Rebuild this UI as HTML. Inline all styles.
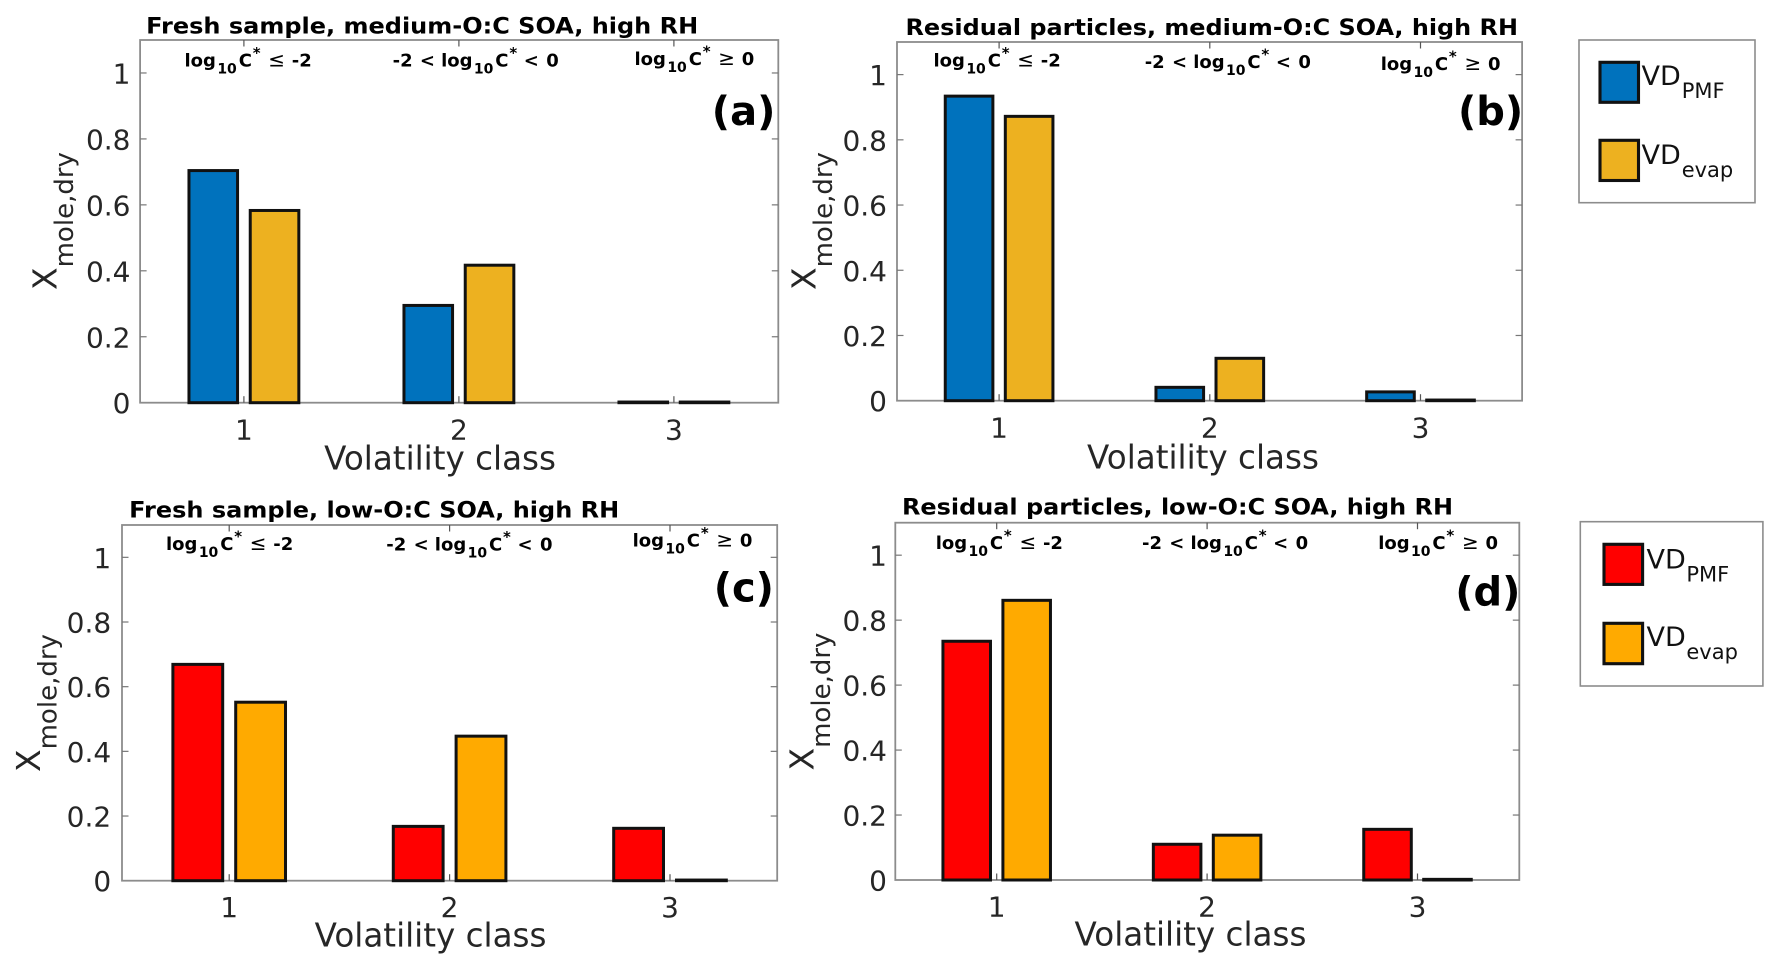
<!DOCTYPE html>
<html lang="en">
<head>
<meta charset="utf-8">
<title>Volatility class distribution</title>
<style>
html,body{margin:0;padding:0;background:#fff;}
svg{display:block;}
text{font-family:"DejaVu Sans","Liberation Sans",sans-serif;}
.title{font-weight:700;font-size:22px;fill:#000;}
.ann{font-weight:700;font-size:18px;fill:#000;}
.ann .sub{font-size:14px;}
.ann .sup{font-size:15px;}
.ann .sym{font-weight:400;font-size:20px;}
.panel-tag{font-weight:700;font-size:40px;fill:#000;}
.xlabel{font-size:32.6px;fill:#262626;}
.ytitle{font-size:33px;fill:#262626;}
.ytitle .sub{font-size:26px;}
.tick{font-size:28px;fill:#262626;}
.leg{font-size:27px;fill:#111;}
.leg .sub{font-size:21px;}
</style>
</head>
<body>
<svg id="fig" xmlns="http://www.w3.org/2000/svg" width="1778" height="969" viewBox="0 0 1778 969">
  <rect x="0" y="0" width="1778" height="969" fill="#fff"/>

  <g id="panel-a"></g>
  <g id="panel-b"></g>
  <g id="panel-c"></g>
  <g id="panel-d"></g>

  <!-- titles -->
  <text class="title" x="146.2" y="33.3" textLength="552" lengthAdjust="spacingAndGlyphs">Fresh sample, medium-O:C SOA, high RH</text>
  <text class="title" x="905.5" y="35" textLength="612.5" lengthAdjust="spacingAndGlyphs">Residual particles, medium-O:C SOA, high RH</text>
  <text class="title" x="129.2" y="517.3" textLength="490" lengthAdjust="spacingAndGlyphs">Fresh sample, low-O:C SOA, high RH</text>
  <text class="title" x="902" y="514.3" textLength="551" lengthAdjust="spacingAndGlyphs">Residual particles, low-O:C SOA, high RH</text>

  <!-- panel tags -->
  <text class="panel-tag" x="711.8" y="125">(a)</text>
  <text class="panel-tag" x="1458" y="125">(b)</text>
  <text class="panel-tag" x="713.7" y="601.7">(c)</text>
  <text class="panel-tag" x="1455.2" y="605.7">(d)</text>

  <!-- volatility range annotations -->
  <text class="ann" x="184.5" y="66.7">log<tspan class="sub" dx="1.4" dy="7">10</tspan><tspan dx="1.9" dy="-7">C</tspan><tspan class="sup" dx="0.8" dy="-8.5">*</tspan><tspan class="sym" dx="7.7" dy="8.5">≤</tspan><tspan dx="6.7">-2</tspan></text>
  <text class="ann" x="392.6" y="66.7">-2<tspan dx="7.3">&lt;</tspan><tspan dx="6.1">log</tspan><tspan class="sub" dx="1.4" dy="7">10</tspan><tspan dx="1.9" dy="-7">C</tspan><tspan class="sup" dx="0.8" dy="-8.5">*</tspan><tspan dx="6.6" dy="8.5">&lt;</tspan><tspan dx="7.4">0</tspan></text>
  <text class="ann" x="634.5" y="65">log<tspan class="sub" dx="1.4" dy="7">10</tspan><tspan dx="1.9" dy="-7">C</tspan><tspan class="sup" dx="0.8" dy="-8.5">*</tspan><tspan class="sym" dx="7.7" dy="8.5">≥</tspan><tspan dx="6.7">0</tspan></text>

  <text class="ann" x="933.5" y="66.7">log<tspan class="sub" dx="1.4" dy="7">10</tspan><tspan dx="1.9" dy="-7">C</tspan><tspan class="sup" dx="0.8" dy="-8.5">*</tspan><tspan class="sym" dx="7.7" dy="8.5">≤</tspan><tspan dx="6.7">-2</tspan></text>
  <text class="ann" x="1144.7" y="68">-2<tspan dx="7.3">&lt;</tspan><tspan dx="6.1">log</tspan><tspan class="sub" dx="1.4" dy="7">10</tspan><tspan dx="1.9" dy="-7">C</tspan><tspan class="sup" dx="0.8" dy="-8.5">*</tspan><tspan dx="6.6" dy="8.5">&lt;</tspan><tspan dx="7.4">0</tspan></text>
  <text class="ann" x="1380.7" y="70">log<tspan class="sub" dx="1.4" dy="7">10</tspan><tspan dx="1.9" dy="-7">C</tspan><tspan class="sup" dx="0.8" dy="-8.5">*</tspan><tspan class="sym" dx="7.7" dy="8.5">≥</tspan><tspan dx="6.7">0</tspan></text>

  <text class="ann" x="166" y="550">log<tspan class="sub" dx="1.4" dy="7">10</tspan><tspan dx="1.9" dy="-7">C</tspan><tspan class="sup" dx="0.8" dy="-8.5">*</tspan><tspan class="sym" dx="7.7" dy="8.5">≤</tspan><tspan dx="6.7">-2</tspan></text>
  <text class="ann" x="386.3" y="550.7">-2<tspan dx="7.3">&lt;</tspan><tspan dx="6.1">log</tspan><tspan class="sub" dx="1.4" dy="7">10</tspan><tspan dx="1.9" dy="-7">C</tspan><tspan class="sup" dx="0.8" dy="-8.5">*</tspan><tspan dx="6.6" dy="8.5">&lt;</tspan><tspan dx="7.4">0</tspan></text>
  <text class="ann" x="632.6" y="546.7">log<tspan class="sub" dx="1.4" dy="7">10</tspan><tspan dx="1.9" dy="-7">C</tspan><tspan class="sup" dx="0.8" dy="-8.5">*</tspan><tspan class="sym" dx="7.7" dy="8.5">≥</tspan><tspan dx="6.7">0</tspan></text>

  <text class="ann" x="935.7" y="549">log<tspan class="sub" dx="1.4" dy="7">10</tspan><tspan dx="1.9" dy="-7">C</tspan><tspan class="sup" dx="0.8" dy="-8.5">*</tspan><tspan class="sym" dx="7.7" dy="8.5">≤</tspan><tspan dx="6.7">-2</tspan></text>
  <text class="ann" x="1142" y="549">-2<tspan dx="7.3">&lt;</tspan><tspan dx="6.1">log</tspan><tspan class="sub" dx="1.4" dy="7">10</tspan><tspan dx="1.9" dy="-7">C</tspan><tspan class="sup" dx="0.8" dy="-8.5">*</tspan><tspan dx="6.6" dy="8.5">&lt;</tspan><tspan dx="7.4">0</tspan></text>
  <text class="ann" x="1378.2" y="549">log<tspan class="sub" dx="1.4" dy="7">10</tspan><tspan dx="1.9" dy="-7">C</tspan><tspan class="sup" dx="0.8" dy="-8.5">*</tspan><tspan class="sym" dx="7.7" dy="8.5">≥</tspan><tspan dx="6.7">0</tspan></text>

  <!-- x axis titles -->
  <text class="xlabel" x="324.1" y="469.3">Volatility class</text>
  <text class="xlabel" x="1087" y="468.3">Volatility class</text>
  <text class="xlabel" x="314.6" y="946.7">Volatility class</text>
  <text class="xlabel" x="1074.5" y="945.7">Volatility class</text>

  <!-- y axis titles -->
  <text class="ytitle" transform="translate(56.7 290) rotate(-90)">X<tspan class="sub" dy="16.5">mole,dry</tspan></text>
  <text class="ytitle" transform="translate(815.5 290) rotate(-90)">X<tspan class="sub" dy="16.5">mole,dry</tspan></text>
  <text class="ytitle" transform="translate(40 772) rotate(-90)">X<tspan class="sub" dy="16.5">mole,dry</tspan></text>
  <text class="ytitle" transform="translate(813.5 770.5) rotate(-90)">X<tspan class="sub" dy="16.5">mole,dry</tspan></text>

  <!-- legends -->
  <g>
    <rect x="1579" y="40" width="176" height="162.7" fill="#fff" stroke="#8c8c8c" stroke-width="1.6"/>
    <g>
      <rect x="1600" y="62.3" width="38.5" height="40" fill="#0072BD" stroke="#111" stroke-width="3.1"/>
      <text class="leg" x="1641.5" y="85">VD<tspan class="sub" x="1681.7" dy="13">PMF</tspan></text>
    </g>
    <g>
      <rect x="1600" y="140.3" width="38.5" height="40.2" fill="#EDB120" stroke="#111" stroke-width="3.1"/>
      <text class="leg" x="1641.5" y="164">VD<tspan class="sub" x="1681.7" dy="13">evap</tspan></text>
    </g>
  </g>
  <g>
    <rect x="1580.3" y="521.7" width="182.6" height="164.3" fill="#fff" stroke="#8c8c8c" stroke-width="1.6"/>
    <g>
      <rect x="1604" y="544.3" width="38.6" height="40.1" fill="#FF0000" stroke="#111" stroke-width="3.1"/>
      <text class="leg" x="1646.5" y="568.3">VD<tspan class="sub" x="1686.4" dy="13">PMF</tspan></text>
    </g>
    <g>
      <rect x="1604" y="623.3" width="38.6" height="40.4" fill="#FFAA00" stroke="#111" stroke-width="3.1"/>
      <text class="leg" x="1646.5" y="646">VD<tspan class="sub" x="1686.4" dy="13">evap</tspan></text>
    </g>
  </g>
</svg>

<script>
// Chart data
const categories = [1, 2, 3];
const yTickValues = [0, 0.2, 0.4, 0.6, 0.8, 1];
const yTickLabels = ["0", "0.2", "0.4", "0.6", "0.8", "1"];
const xTickLabels = ["1", "2", "3"];
const seriesNames = ["pmf", "evap"];

const panelA_pmf  = [0.704, 0.295, 0.002];
const panelA_evap = [0.583, 0.417, 0.002];
const panelB_pmf  = [0.934, 0.041, 0.027];
const panelB_evap = [0.872, 0.130, 0.002];
const panelC_pmf  = [0.669, 0.168, 0.162];
const panelC_evap = [0.552, 0.447, 0.002];
const panelD_pmf  = [0.735, 0.110, 0.156];
const panelD_evap = [0.861, 0.138, 0.002];

// Layout (pixels) is separate from the data
const BAR_OFFSET = 0.1425, BAR_WIDTH = 0.226, Y_MAX = 1.1;
const panels = [
  {id:"a", left:140.1, right:778.3, top:40,    bottom:402.7, xAt1:243.9,  xStep:215.0, labelRight:130.5, xLabelBase:439.3, pmf:panelA_pmf, evap:panelA_evap, colors:["#0072BD","#EDB120"]},
  {id:"b", left:897,   right:1522.1,top:42,    bottom:400.7, xAt1:999.1,  xStep:210.7, labelRight:887,   xLabelBase:437.3, pmf:panelB_pmf, evap:panelB_evap, colors:["#0072BD","#EDB120"]},
  {id:"c", left:122,   right:777.2, top:525,   bottom:880.7, xAt1:229.2,  xStep:220.4, labelRight:111.2, xLabelBase:917,   pmf:panelC_pmf, evap:panelC_evap, colors:["#FF0000","#FFAA00"]},
  {id:"d", left:895.3, right:1519.3,top:522.7, bottom:880,   xAt1:996.7,  xStep:210.4, labelRight:887,   xLabelBase:916.3, pmf:panelD_pmf, evap:panelD_evap, colors:["#FF0000","#FFAA00"]}
];

const NS = "http://www.w3.org/2000/svg";
function make(tag, attrs, parent) {
  const el = document.createElementNS(NS, tag);
  for (const k in attrs) el.setAttribute(k, attrs[k]);
  parent.appendChild(el);
  return el;
}

panels.forEach(function (p) {
  const root = document.getElementById("panel-" + p.id);
  const xScale = function (v) { return p.xAt1 + (v - 1) * p.xStep; };
  const yScale = function (v) { return p.bottom - (v / Y_MAX) * (p.bottom - p.top); };

  // axes box
  const box = make("rect", {x:p.left, y:p.top, width:p.right-p.left, height:p.bottom-p.top, fill:"#fff", stroke:"#8c8c8c", "stroke-width":1.8}, root);
  
  

  // y ticks + labels
  yTickValues.forEach(function (v, i) {
    const y = yScale(v);
    if (v > 0) {
      const t1 = make("line", {x1:p.left, x2:p.left+6.5, y1:y, y2:y, stroke:"#777", "stroke-width":1.2}, root);
      
      
      const t2 = make("line", {x1:p.right-6.5, x2:p.right, y1:y, y2:y, stroke:"#777", "stroke-width":1.2}, root);
      
      
    }
    const lab = make("text", {x:p.labelRight, y:y+10.5, "text-anchor":"end", "class":"tick"}, root);
    
    
    lab.textContent = yTickLabels[i];
  });

  // x ticks + labels
  categories.forEach(function (c, i) {
    const x = xScale(c);
    const t1 = make("line", {x1:x, x2:x, y1:p.bottom, y2:p.bottom-6.5, stroke:"#555", "stroke-width":1.2}, root);
    
    
    const t2 = make("line", {x1:x, x2:x, y1:p.top, y2:p.top+6.5, stroke:"#555", "stroke-width":1.2}, root);
    
    
    const lab = make("text", {x:x, y:p.xLabelBase, "text-anchor":"middle", "class":"tick"}, root);
    
    
    lab.textContent = xTickLabels[i];
  });

  // bars
  [p.pmf, p.evap].forEach(function (values, s) {
    const offset = s === 0 ? -BAR_OFFSET : BAR_OFFSET;
    categories.forEach(function (c, i) {
      const x0 = xScale(c + offset - BAR_WIDTH / 2);
      const x1 = xScale(c + offset + BAR_WIDTH / 2);
      const yTop = yScale(values[i]);
      const bar = make("rect", {x:x0, y:yTop, width:x1-x0, height:p.bottom-yTop, fill:p.colors[s], stroke:"#111", "stroke-width":3}, root);
      
      
    });
  });
});
</script>
</body>
</html>
